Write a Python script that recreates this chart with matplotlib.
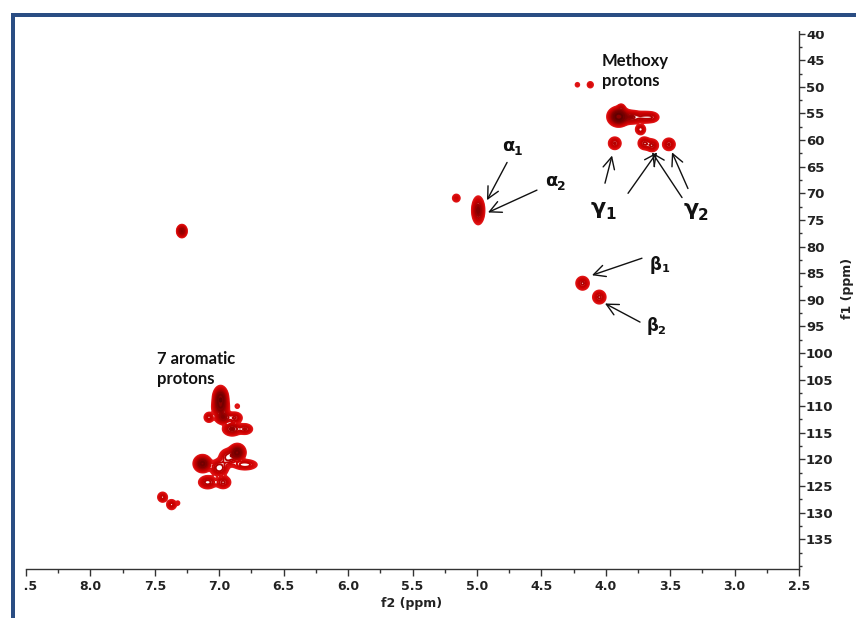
import numpy as np
import matplotlib
matplotlib.use("Agg")
import matplotlib.pyplot as plt
from matplotlib.patches import Rectangle
from matplotlib.ticker import MultipleLocator, FixedLocator, FormatStrFormatter

# ---- peak data (f2 ppm, f1 ppm, intensity, width f2, width f1) ----
peak_f2 = [7.29, 5.16, 4.99, 4.18, 4.05, 4.22, 4.12,
           3.90, 3.80, 3.70, 3.64, 3.88, 3.73,
           3.93, 3.70, 3.64, 3.51,
           6.99, 6.99, 6.86, 7.08, 6.97, 6.88, 6.90, 6.80,
           6.86, 7.13, 7.00, 6.93, 6.80, 7.09, 6.97, 7.44, 7.37, 7.32]
peak_f1 = [77.1, 70.9, 73.2, 86.9, 89.5, 49.6, 49.6,
           55.6, 55.7, 55.7, 55.7, 54.0, 58.0,
           60.6, 60.6, 61.0, 60.8,
           108.6, 110.3, 110.0, 112.1, 112.1, 112.2, 114.3, 114.3,
           118.7, 120.8, 121.6, 119.6, 121.0, 124.3, 124.3, 127.1, 128.5, 128.2]
peak_amp = [1.6, 0.45, 1.7, 0.9, 0.9, 0.25, 0.35,
            4.0, 1.2, 0.8, 0.55, 0.6, 0.8,
            0.85, 0.85, 0.85, 0.85,
            3.0, 1.5, 0.3, 0.7, 1.5, 0.85, 1.3, 0.85,
            2.5, 2.5, 1.1, 1.0, 0.8, 1.0, 0.9, 0.7, 0.7, 0.25]
peak_wx = [0.018, 0.018, 0.022, 0.026, 0.026, 0.014, 0.016,
           0.035, 0.04, 0.04, 0.03, 0.015, 0.02,
           0.025, 0.025, 0.025, 0.025,
           0.025, 0.03, 0.012, 0.02, 0.03, 0.03, 0.035, 0.03,
           0.028, 0.03, 0.035, 0.035, 0.05, 0.035, 0.03, 0.02, 0.02, 0.01]
peak_wy = [0.55, 0.45, 1.2, 0.65, 0.65, 0.35, 0.4,
           0.75, 0.6, 0.55, 0.5, 0.4, 0.5,
           0.6, 0.6, 0.6, 0.6,
           1.0, 0.8, 0.3, 0.5, 0.6, 0.55, 0.6, 0.5,
           0.7, 0.7, 0.8, 0.8, 0.5, 0.6, 0.6, 0.5, 0.5, 0.3]

x_ticks = [8.5, 8.0, 7.5, 7.0, 6.5, 6.0, 5.5, 5.0, 4.5, 4.0, 3.5, 3.0, 2.5]
y_ticks = list(range(40, 140, 5))

# ---- annotations ----
greek_labels = [("α", "1", 4.76, 61.2, 13), ("α", "2", 4.42, 67.7, 13),
                ("β", "1", 3.61, 83.4, 12), ("β", "2", 3.64, 95.0, 12),
                ("γ", "1", 4.06, 72.8, 16), ("γ", "2", 3.34, 73.0, 16)]
arrows = [((4.766, 64.2), (4.922, 71.3)), ((4.534, 69.4), (4.914, 73.6)),
          ((3.719, 82.2), (4.107, 85.4)), ((3.734, 94.2), (4.006, 90.7)),
          ((4.006, 68.1), (3.951, 62.9)), ((3.827, 70.0), (3.602, 62.3)),
          ((3.408, 70.8), (3.641, 62.3)), ((3.362, 69.1), (3.486, 62.3))]

W, H = 856, 618
fig = plt.figure(figsize=(W / 100, H / 100), dpi=100)
ax = fig.add_axes([26 / W, 1 - 569 / H, (799 - 26) / W, (569 - 31) / H])

xg = np.linspace(8.5, 2.5, 1000)
yg = np.linspace(39, 141, 700)
X, Y = np.meshgrid(xg, yg)
Z = np.zeros_like(X)
for px, py, a, sx, sy in zip(peak_f2, peak_f1, peak_amp, peak_wx, peak_wy):
    Z += a * np.exp(-0.5 * (((X - px) / sx) ** 2 + ((Y - py) / sy) ** 2))

levels = [0.15 * 1.4 ** k for k in range(11)]
colors = ['#e31a1c', '#de1212', '#d60a0a', '#cf0303', '#c40000',
          '#b40000', '#9a0000', '#840000', '#730000', '#620000', '#580000']
ax.contourf(X, Y, Z, levels=[1.25, Z.max() + 1], colors=['#8c0000'])
ax.contour(X, Y, Z, levels=levels, colors=colors, linewidths=1.4)

ax.set_xlim(8.5, 2.5)
ax.set_ylim(140.6, 39.5)

for s in ['top', 'left']:
    ax.spines[s].set_visible(False)
for s in ['bottom', 'right']:
    ax.spines[s].set_color('#333333')
    ax.spines[s].set_linewidth(1.0)

ax.yaxis.tick_right()
ax.xaxis.set_major_locator(FixedLocator(x_ticks))
ax.xaxis.set_minor_locator(MultipleLocator(0.25))
ax.xaxis.set_major_formatter(FormatStrFormatter('%.1f'))
ax.yaxis.set_major_locator(FixedLocator(y_ticks))
ax.yaxis.set_minor_locator(MultipleLocator(2.5))
ax.tick_params(axis='x', which='major', direction='out', length=5, width=1,
               pad=3, labelsize=9, color='#333333')
ax.tick_params(axis='x', which='minor', direction='out', length=3, width=1,
               color='#333333')
ax.tick_params(axis='y', which='major', direction='out', length=4, width=1,
               pad=1, labelsize=9.5, color='#333333')
ax.tick_params(axis='y', which='minor', direction='out', length=2.5, width=1,
               color='#333333')
for lbl in ax.get_xticklabels() + ax.get_yticklabels():
    lbl.set_fontweight('bold')
    lbl.set_color('#222222')

fig.text(412 / W, 1 - 603 / H, 'f2 (ppm)', ha='center', va='center',
         fontsize=9, fontweight='bold', color='#222222')
fig.text(848 / W, 1 - 288 / H, 'f1 (ppm)', ha='center', va='center',
         rotation=90, fontsize=9, fontweight='bold', color='#222222')

lab_font = ['Lato', 'DejaVu Sans']
ax.text(4.029, 47.0, 'Methoxy\nprotons', ha='left', va='center',
        fontsize=12, fontweight='bold', family=lab_font, linespacing=1.3,
        color='#111111')
ax.text(7.483, 103.0, '7 aromatic\nprotons', ha='left', va='center',
        fontsize=12, fontweight='bold', family=lab_font, linespacing=1.3,
        color='#111111')

for g, sub, gx, gy, fs in greek_labels:
    ax.text(gx, gy, g, ha='center', va='center', fontsize=fs,
            fontweight='bold', family=['DejaVu Sans'], color='#111111')
    ax.annotate(sub, xy=(gx, gy), xytext=(fs * 0.55, -fs * 0.28),
                textcoords='offset points', ha='center', va='center',
                fontsize=fs * 0.68, fontweight='bold', color='#111111')

for (x0, y0), (x1, y1) in arrows:
    ax.annotate('', xy=(x1, y1), xytext=(x0, y0),
                arrowprops=dict(arrowstyle='->,head_length=0.6,head_width=0.3',
                                lw=1.0, color='#111111', mutation_scale=14,
                                shrinkA=0, shrinkB=0))

# cropped frame of the original figure
fig.add_artist(Rectangle((15 / W, 1 - 600 / H), 9 / W, 30 / H,
                         transform=fig.transFigure, facecolor='white',
                         edgecolor='none', zorder=20))
fig.add_artist(Rectangle((790 / W, 1 - 30.5 / H), 66 / W, 13.5 / H,
                         transform=fig.transFigure, facecolor='white',
                         edgecolor='none', zorder=20))
border = '#2a4d83'
fig.add_artist(Rectangle((11 / W, 1 - 17 / H), (W - 11) / W, 4 / H,
                         transform=fig.transFigure, facecolor=border,
                         edgecolor='none', zorder=21))
fig.add_artist(Rectangle((11 / W, 0), 4 / W, 1 - 13 / H,
                         transform=fig.transFigure, facecolor=border,
                         edgecolor='none', zorder=21))

fig.savefig('out.png', dpi=100)
